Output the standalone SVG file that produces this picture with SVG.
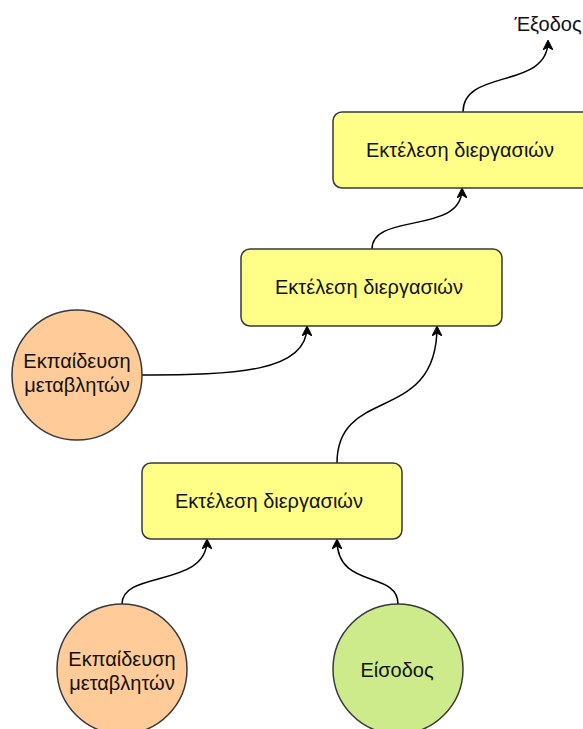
<svg xmlns="http://www.w3.org/2000/svg" width="583" height="729" viewBox="0 0 583 729">
  <defs>
    <marker id="arrow" viewBox="0 0 10 10" refX="9" refY="5" markerWidth="10" markerHeight="10" markerUnits="userSpaceOnUse" orient="auto">
      <path d="M0,0 L10,5 L0,10 L3,5 Z" fill="#000" stroke="#000" stroke-width="1"/>
    </marker>
    <style>
      .box { fill: #ffff88; stroke: #36393d; stroke-width: 1.5; }
      .train { fill: #ffcc99; stroke: #36393d; stroke-width: 1.5; }
      .input { fill: #cdeb8b; stroke: #36393d; stroke-width: 1.5; }
      .edge { fill: none; stroke: #000; stroke-width: 1.5; marker-end: url(#arrow); }
      text { font-family: "Liberation Sans", Arial, sans-serif; font-size: 20px; fill: #111; text-anchor: middle; }
    </style>
  </defs>

  <rect width="583" height="729" fill="#fff"/>

  <!-- connectors -->
  <g id="edges">
    <path class="edge" d="M122,604 C122,570 207,588 207,540"/>
    <path class="edge" d="M398,604 C398,570 337,590 337,540"/>
    <path class="edge" d="M337,463 C337,385 437,425 437,327"/>
    <path class="edge" d="M142,375 C235,375 307,372 307,327"/>
    <path class="edge" d="M372,249 C372,212 462,235 462,189"/>
    <path class="edge" d="M463,112 C463,68 548,90 548,41"/>
  </g>

  <g id="process3">
    <rect class="box" x="142" y="463" width="260" height="76" rx="9"/>
    <text x="269" y="508">Εκτέλεση διεργασιών</text>
  </g>
  <g id="process2">
    <rect class="box" x="241" y="249" width="261" height="77" rx="9"/>
    <text x="369" y="294">Εκτέλεση διεργασιών</text>
  </g>
  <g id="process1">
    <rect class="box" x="333" y="112" width="260" height="76" rx="9"/>
    <text x="460" y="157">Εκτέλεση διεργασιών</text>
  </g>

  <g id="training-mid">
    <circle class="train" cx="77" cy="375" r="65"/>
    <text x="77" y="368">Εκπαίδευση</text>
    <text x="77" y="392">μεταβλητών</text>
  </g>
  <g id="training-bottom">
    <circle class="train" cx="122" cy="669" r="65"/>
    <text x="122" y="666">Εκπαίδευση</text>
    <text x="122" y="690">μεταβλητών</text>
  </g>
  <g id="input">
    <circle class="input" cx="398" cy="669" r="65"/>
    <text x="397" y="677">Είσοδος</text>
  </g>

  <g id="output">
    <text x="548" y="31">Έξοδος</text>
  </g>
</svg>
